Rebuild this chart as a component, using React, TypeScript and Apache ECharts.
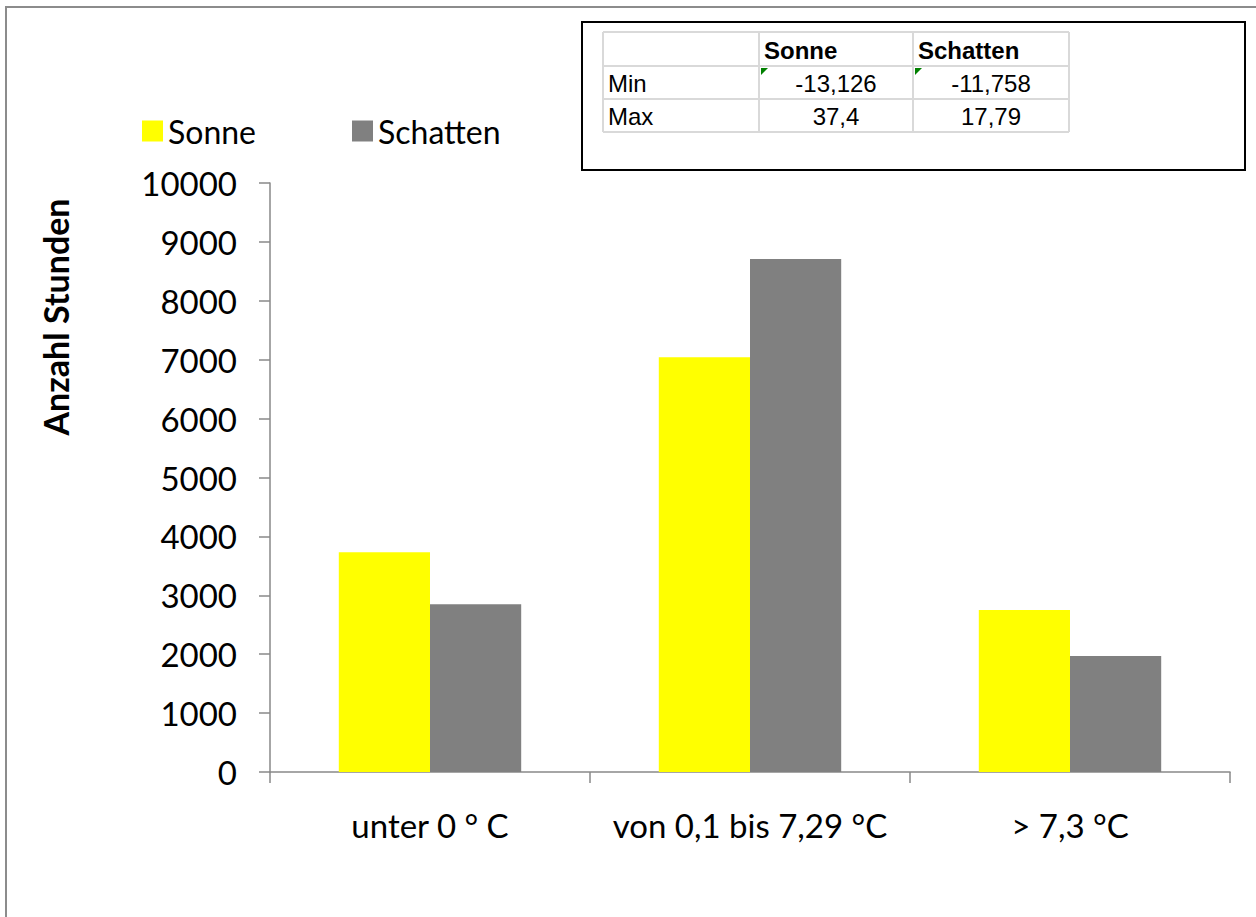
import React, { useEffect, useRef } from "react";
import * as echarts from "echarts";

const categories = ["unter 0 ° C", "von 0,1 bis 7,29 °C", "> 7,3 °C"];
const sonne = [3730, 7040, 2750];
const schatten = [2850, 8710, 1970];
const yTicks = { min: 0, max: 10000, interval: 1000 };
const tableHeader = ["", "Sonne", "Schatten"];
const tableRows = [
  ["Min", "-13,126", "-11,758"],
  ["Max", "37,4", "17,79"],
];

const FONT = "Lato, 'Open Sans', sans-serif";

export default function App() {
  const ref = useRef<HTMLDivElement>(null);
  useEffect(() => {
    if (!ref.current) return;
    const chart = echarts.init(ref.current, null, { renderer: "svg" });

    const colX = [603, 759, 913, 1069];
    const rowY = [32, 66, 99, 132];
    const tableGraphics: any[] = [];
    for (let i = 0; i < colX.length; i++) {
      tableGraphics.push({
        type: "line",
        shape: { x1: colX[i], y1: rowY[0], x2: colX[i], y2: rowY[rowY.length - 1] },
        style: { stroke: "#d9d9d9", lineWidth: 2 },
      });
    }
    for (let j = 0; j < rowY.length; j++) {
      tableGraphics.push({
        type: "line",
        shape: { x1: colX[0], y1: rowY[j], x2: colX[colX.length - 1], y2: rowY[j] },
        style: { stroke: "#d9d9d9", lineWidth: 2 },
      });
    }
    const rows = [tableHeader, ...tableRows];
    rows.forEach((row, r) => {
      row.forEach((cell, c) => {
        if (!cell) return;
        const yMid = (rowY[r] + rowY[r + 1]) / 2 + 1;
        const isHeader = r === 0;
        const isLabel = c === 0;
        tableGraphics.push({
          type: "text",
          x: isHeader || isLabel ? colX[c] + 5 : (colX[c] + colX[c + 1]) / 2,
          y: yMid,
          style: {
            text: cell,
            font: `${isHeader ? "bold " : ""}24px 'Liberation Sans', Arial, sans-serif`,
            fill: "#000",
            textAlign: isHeader || isLabel ? "left" : "center",
            textVerticalAlign: "middle",
          },
        });
      });
    });
    [1, 2].forEach((c) => {
      tableGraphics.push({
        type: "polygon",
        shape: { points: [[colX[c] + 2, rowY[1] + 2], [colX[c] + 9, rowY[1] + 2], [colX[c] + 2, rowY[1] + 9]] },
        style: { fill: "#008000" },
      });
    });

    const legendCommon = {
      top: 110,
      itemWidth: 21,
      itemHeight: 21,
      icon: "rect",
      itemGap: 10,
      textStyle: { fontSize: 32, fontFamily: FONT, color: "#000" },
    };

    chart.setOption({
      animation: false,
      backgroundColor: "#fff",
      grid: { left: 270, right: 26, top: 183, bottom: 145, containLabel: false },
      legend: [
        { ...legendCommon, data: ["Sonne"], left: 137 },
        { ...legendCommon, data: ["Schatten"], left: 347 },
      ],
      xAxis: {
        type: "category",
        data: categories,
        axisLine: { lineStyle: { color: "#898989", width: 1.5 } },
        axisTick: { show: true, length: 11, lineStyle: { color: "#898989", width: 1.5 } },
        axisLabel: { fontSize: 33, fontFamily: FONT, color: "#000", margin: 36, interval: 0 },
      },
      yAxis: {
        type: "value",
        min: yTicks.min,
        max: yTicks.max,
        interval: yTicks.interval,
        axisLine: { show: true, lineStyle: { color: "#898989", width: 1.5 } },
        axisTick: { show: true, length: 11, lineStyle: { color: "#898989", width: 1.5 } },
        axisLabel: { fontSize: 33, fontFamily: FONT, color: "#000", margin: 33, formatter: (v: number) => String(v) },
        splitLine: { show: false },
      },
      series: [
        {
          name: "Sonne",
          type: "bar",
          data: sonne,
          barGap: "0%",
          barCategoryGap: "43%",
          itemStyle: { color: "#FFFF00" },
        },
        {
          name: "Schatten",
          type: "bar",
          data: schatten,
          barGap: "0%",
          barCategoryGap: "43%",
          itemStyle: { color: "#808080" },
        },
      ],
      graphic: [
        {
          type: "rect",
          shape: { x: 6, y: 7, width: 1400, height: 1200 },
          style: { fill: "none", stroke: "#8c8c8c", lineWidth: 2 },
          silent: true,
        },
        {
          type: "text",
          x: 55,
          y: 317,
          rotation: Math.PI / 2,
          style: {
            text: "Anzahl Stunden",
            font: `bold 34px ${FONT}`,
            fill: "#000",
            textAlign: "center",
            textVerticalAlign: "middle",
          },
        },
        {
          type: "rect",
          shape: { x: 582, y: 22, width: 663, height: 148 },
          style: { fill: "#fff", stroke: "#000", lineWidth: 2 },
        },
        ...tableGraphics,
      ],
    });
    return () => chart.dispose();
  }, []);
  return <div ref={ref} style={{ width: 1256, height: 917, position: "absolute", left: 0, top: 0 }} />;
}
